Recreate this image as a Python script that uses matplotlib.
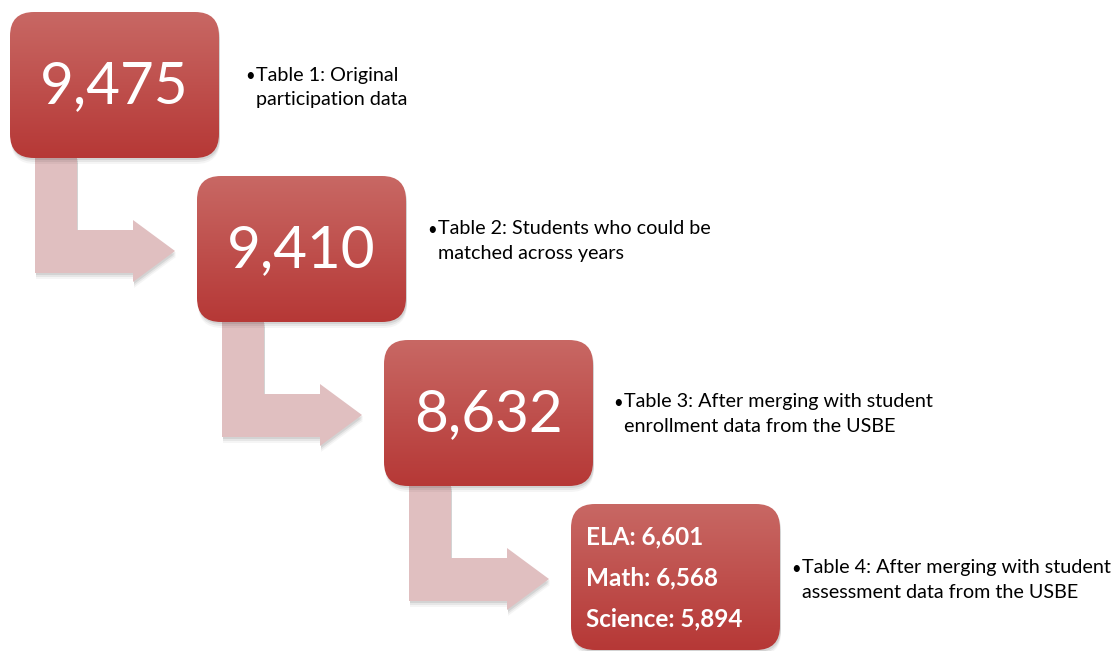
import numpy as np
import matplotlib.pyplot as plt
from matplotlib.patches import FancyBboxPatch, Polygon

plt.rcParams['font.family'] = ['Lato', 'DejaVu Sans']

# data
counts = ['9,475', '9,410', '8,632']
subjects = ['ELA', 'Math', 'Science']
subject_counts = ['6,601', '6,568', '5,894']
notes = [
    ['Table 1: Original', 'participation data'],
    ['Table 2: Students who could be', 'matched across years'],
    ['Table 3: After merging with student', 'enrollment data from the USBE'],
    ['Table 4: After merging with student', 'assessment data from the USBE'],
]

W, H = 1113, 651
fig = plt.figure(figsize=(W / 100, H / 100), dpi=100)
ax = fig.add_axes([0, 0, 1, 1])
ax.set_xlim(0, W)
ax.set_ylim(H, 0)
ax.axis('off')

top_col = np.array([200, 104, 100]) / 255
bot_col = np.array([182, 56, 54]) / 255
grad = np.linspace(0, 1, 256)[:, None, None]
grad = top_col * (1 - grad) + bot_col * grad

box_w, box_h = 209, 146
step_x, step_y = 187, 164
x0, y0 = 10, 12


def shadow(make_patch):
    for k, a in [(6, 0.04), (4, 0.06), (2, 0.08)]:
        p = make_patch(k)
        p.set_facecolor('black')
        p.set_alpha(a)
        p.set_edgecolor('none')
        ax.add_patch(p)


def arrow_pts(ox, oy, dx=0, dy=0):
    pts = [(35, 157), (77, 157), (77, 230), (133, 230), (133, 220),
           (175, 251), (133, 282), (133, 273), (35, 273)]
    return [(px + ox + dx, py + oy + dy) for px, py in pts]


# arrows first (under boxes)
for i in range(3):
    ox, oy = i * step_x, i * step_y
    shadow(lambda k: Polygon(arrow_pts(ox, oy, 1, k)))
    ax.add_patch(Polygon(arrow_pts(ox, oy), closed=True,
                         facecolor='#e0bfc0', edgecolor='none'))

for i in range(4):
    bx, by = x0 + i * step_x, y0 + i * step_y
    shadow(lambda k: FancyBboxPatch((bx + 1, by + k), box_w, box_h,
                                    boxstyle='round,pad=0,rounding_size=24'))
    patch = FancyBboxPatch((bx, by), box_w, box_h,
                           boxstyle='round,pad=0,rounding_size=24',
                           facecolor='none', edgecolor='none')
    ax.add_patch(patch)
    im = ax.imshow(grad, extent=(bx, bx + box_w, by + box_h, by),
                   origin='upper', aspect='auto', zorder=2)
    im.set_clip_path(patch)
    if i < 3:
        ax.text(bx + box_w / 2, by + box_h / 2 + 2, counts[i], color='white',
                fontsize=42, ha='center', va='center', zorder=3)
    else:
        for j, (s, c) in enumerate(zip(subjects, subject_counts)):
            ax.text(bx + 15, by + 33 + j * 41, f'{s}: {c}', color='white',
                    fontsize=17.5, fontweight='bold', ha='left', va='center', zorder=3)

note_pos = [(245, 75), (427, 229), (613, 402), (791, 568)]
for (nx, ny), lines in zip(note_pos, notes):
    ax.text(nx, ny + 1, '•', fontsize=12, ha='left', va='center', color='black')
    for j, line in enumerate(lines):
        ax.text(nx + 11, ny + j * 24, line, fontsize=14.2, ha='left',
                va='center', color='black')

ax.set_xlim(0, W)
ax.set_ylim(H, 0)
fig.savefig('out.png', dpi=100, facecolor='white')
